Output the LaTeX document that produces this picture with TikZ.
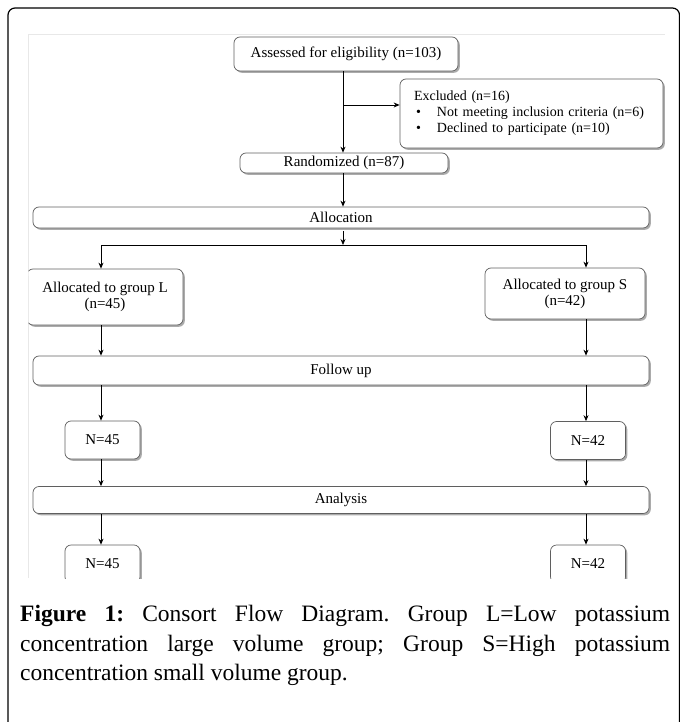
\documentclass[tikz,border=0pt]{standalone}
\usepackage{fontspec}
\setmainfont{Liberation Serif}
\usetikzlibrary{arrows.meta,positioning,shadows}
\definecolor{BoxEdge}{RGB}{95,95,95}
\definecolor{FrameGray}{RGB}{232,232,232}
\frenchspacing

\begin{document}
\begin{tikzpicture}[
   x=1bp,y=-1bp,
   font=\fontsize{15bp}{16bp}\selectfont,
   box/.style={rectangle,rounded corners=6bp,draw=BoxEdge,line width=0.7bp,fill=white,
               inner sep=0pt,align=center,
               drop shadow={shadow xshift=1.8bp,shadow yshift=-1.8bp,fill=black!55,opacity=0.6}},
   bar/.style={box,minimum width=616bp},
   nbox/.style={box,minimum width=75bp,minimum height=38bp},
   arr/.style={-{Stealth[length=6bp,width=5bp]},line width=0.8bp,black}]
   \useasboundingbox (0,0) rectangle (680,722);
   \draw[line width=1.2bp,rounded corners=7bp] (8,760) rectangle (679.5,8);
   \draw[FrameGray,line width=1bp] (28,578) -- (28,35) -- (665,35);
   \begin{scope}
   \clip (28.5,35.5) rectangle (665,578);
   \node[box,minimum width=224bp,minimum height=34bp] (assess) at (346,54) {Assessed for eligibility (n=103)};
   \node[box,text width=235bp,inner xsep=14bp,minimum height=69bp,align=left,
         font=\fontsize{14bp}{16bp}\selectfont] (excl) at (531.5,113.5)
        {Excluded (n=16)\\
         \makebox[23bp][l]{\hspace{2bp}\textbullet}Not meeting inclusion criteria (n=6)\\
         \makebox[23bp][l]{\hspace{2bp}\textbullet}Declined to participate (n=10)};
   \node[box,minimum width=208bp,minimum height=20bp] (rand) at (344,163) {Randomized (n=87)};
   \node[bar,minimum height=21bp] (alloc) at (341,217.5) {Allocation};
   \node[box,minimum width=156bp,minimum height=56bp] (grpL) at (105,297) {Allocated to group L\\(n=45)};
   \node[box,minimum width=160bp,minimum height=51bp] (grpS) at (565,293.5) {Allocated to group S\\(n=42)};
   \node[bar,minimum height=29bp] (fol) at (341,370.5) {Follow up};
   \node[nbox] (n45a) at (102.5,440) {N=45};
   \node[nbox] (n42a) at (588,440.5) {N=42};
   \node[bar,minimum height=27bp] (ana) at (341,500) {Analysis};
   \node[nbox] (n45b) at (102.5,564) {N=45};
   \node[nbox] (n42b) at (588,564) {N=42};
   \end{scope}
   \coordinate (colM) at (343,0);
   \coordinate (colL) at (101,0);
   \coordinate (colR) at (586,0);
   \coordinate (brk) at (343,105);
   \coordinate (split) at (343,245);
   \draw[arr] (assess.south -| colM) -- (rand.north -| colM);
   \draw[arr] (brk) -- (brk -| excl.west);
   \draw[arr] (rand.south -| colM) -- (alloc.north -| colM);
   \draw[arr,shorten <=3bp] (alloc.south -| colM) -- (split);
   \draw[line width=0.8bp] (split -| colL) -- (split -| colR);
   \draw[arr] (split -| colL) -- (grpL.north -| colL);
   \draw[arr] (split -| colR) -- (grpS.north -| colR);
   \draw[arr] (grpL.south -| colL) -- (fol.north -| colL);
   \draw[arr] (grpS.south -| colR) -- (fol.north -| colR);
   \draw[arr] (fol.south -| colL) -- (n45a.north -| colL);
   \draw[arr] (fol.south -| colR) -- (n42a.north -| colR);
   \draw[arr] (n45a.south -| colL) -- (ana.north -| colL);
   \draw[arr] (n42a.south -| colR) -- (ana.north -| colR);
   \draw[arr] (ana.south -| colL) -- (n45b.north -| colL);
   \draw[arr] (ana.south -| colR) -- (n42b.north -| colR);
   \node[anchor=north west,inner sep=0pt,text width=650bp,align=justify,
         font=\fontsize{23.5bp}{29.5bp}\selectfont] (caption) at (20,605)
        {\textbf{Figure 1:} Consort Flow Diagram. Group L=Low potassium\linebreak
         concentration large volume group; Group S=High potassium\linebreak
         concentration small volume group.};
\end{tikzpicture}
\end{document}
